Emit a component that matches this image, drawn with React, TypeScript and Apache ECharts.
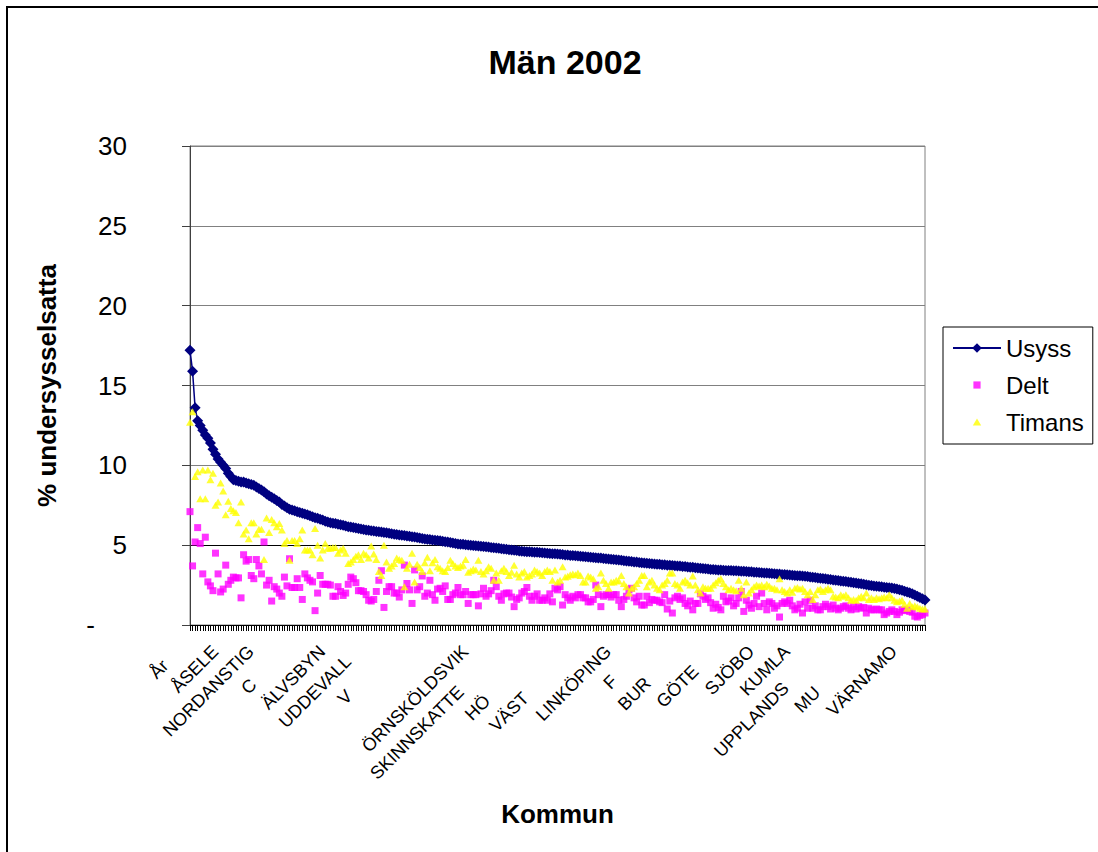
import React, { useEffect, useRef } from "react";
import * as echarts from "echarts";

// ---------- DATA ----------
const TITLE = "Män 2002";
const Y_NAME = "% undersysselsatta";
const X_NAME = "Kommun";
const SERIES_NAMES = ["Usyss", "Delt", "Timans"];

// Visible (clipped) category labels, one per label slot of 14 kommuner
const KOMMUN_LABELS = [
  "År", "ÅSELE", "NORDANSTIG", "C", "ÄLVSBYN", "UDDEVALL", "V", "",
  "ÖRNSKÖLDSVIK", "SKINNSKATTE", "HÖ", "VÄST", "LINKÖPING", "F", "BUR",
  "GÖTE", "SJÖBO", "KUMLA", "UPPLANDS", "MU", "VÄRNAMO",
];
const LABEL_STEP = 14;

const Y_TICKS = [0, 5, 10, 15, 20, 25, 30];

const USYSS = [
  17.2, 15.9, 13.6, 12.8, 12.5, 12.2, 11.9, 11.7, 11.4, 11.0,
  10.7, 10.4, 10.2, 10.0, 9.8, 9.5, 9.3, 9.1, 9.05, 9.0,
  8.95, 8.95, 8.9, 8.85, 8.8, 8.75, 8.65, 8.55, 8.45, 8.35,
  8.2, 8.1, 8.0, 7.9, 7.8, 7.7, 7.55, 7.45, 7.35, 7.25,
  7.2, 7.15, 7.1, 7.05, 7.0, 6.95, 6.9, 6.85, 6.78, 6.72,
  6.68, 6.62, 6.57, 6.5, 6.45, 6.4, 6.38, 6.35, 6.31, 6.28,
  6.24, 6.2, 6.16, 6.13, 6.1, 6.07, 6.04, 6.01, 5.98, 5.95,
  5.93, 5.91, 5.89, 5.86, 5.84, 5.82, 5.8, 5.77, 5.74, 5.71,
  5.69, 5.67, 5.64, 5.62, 5.6, 5.58, 5.56, 5.53, 5.51, 5.48,
  5.45, 5.42, 5.39, 5.37, 5.35, 5.33, 5.31, 5.29, 5.27, 5.25,
  5.22, 5.2, 5.17, 5.14, 5.11, 5.08, 5.06, 5.05, 5.03, 5.01,
  5.0, 4.98, 4.96, 4.95, 4.93, 4.92, 4.9, 4.88, 4.86, 4.84,
  4.82, 4.8, 4.78, 4.76, 4.74, 4.72, 4.7, 4.68, 4.66, 4.64,
  4.62, 4.6, 4.59, 4.58, 4.57, 4.56, 4.55, 4.54, 4.52, 4.51,
  4.49, 4.48, 4.47, 4.46, 4.45, 4.43, 4.41, 4.39, 4.38, 4.36,
  4.35, 4.33, 4.32, 4.3, 4.29, 4.27, 4.26, 4.24, 4.23, 4.21,
  4.2, 4.19, 4.17, 4.15, 4.14, 4.12, 4.11, 4.09, 4.07, 4.05,
  4.03, 4.01, 3.99, 3.97, 3.95, 3.94, 3.92, 3.9, 3.88, 3.86,
  3.85, 3.84, 3.82, 3.81, 3.8, 3.78, 3.77, 3.75, 3.74, 3.72,
  3.71, 3.7, 3.69, 3.67, 3.66, 3.64, 3.62, 3.61, 3.59, 3.57,
  3.56, 3.54, 3.52, 3.5, 3.48, 3.47, 3.46, 3.45, 3.44, 3.43,
  3.42, 3.41, 3.41, 3.4, 3.39, 3.38, 3.37, 3.36, 3.35, 3.34,
  3.33, 3.31, 3.3, 3.29, 3.28, 3.26, 3.25, 3.24, 3.23, 3.21,
  3.2, 3.19, 3.17, 3.16, 3.15, 3.13, 3.12, 3.1, 3.09, 3.08,
  3.07, 3.05, 3.03, 3.01, 2.99, 2.97, 2.95, 2.93, 2.91, 2.89,
  2.87, 2.85, 2.82, 2.8, 2.78, 2.76, 2.74, 2.72, 2.7, 2.68,
  2.65, 2.63, 2.6, 2.58, 2.55, 2.52, 2.49, 2.47, 2.45, 2.43,
  2.41, 2.39, 2.37, 2.35, 2.33, 2.31, 2.28, 2.25, 2.21, 2.17,
  2.12, 2.07, 2.02, 1.95, 1.88, 1.8, 1.72, 1.64, 1.56,
];

const DELT = [
  7.1, 3.7, 5.2, 6.1, 5.1, 3.2, 5.5, 2.7, 2.45, 2.15,
  4.5, 3.2, 2.07, 2.25, 3.75, 2.55, 2.8, 3.0, 2.95, 2.95,
  1.7, 4.4, 4.0, 4.1, 3.1, 2.9, 4.1, 3.7, 3.2, 5.2,
  2.5, 2.8, 1.5, 2.4, 2.25, 2.0, 1.8, 3.0, 2.45, 4.15,
  2.35, 2.35, 2.9, 2.35, 1.6, 3.2, 2.95, 2.8, 2.7, 0.9,
  2.0, 3.1, 2.55, 2.55, 2.55, 2.5, 1.8, 1.8, 2.4, 2.1,
  1.85, 2.0, 2.55, 3.0, 2.9, 2.65, 2.15, 2.15, 2.1, 1.9,
  1.55, 1.5, 1.6, 2.1, 2.8, 3.4, 1.1, 2.1, 2.4, 2.4,
  2.0, 2.0, 1.75, 2.2, 3.75, 2.6, 2.2, 1.35, 3.45, 2.2,
  2.4, 3.07, 1.8, 2.0, 2.8, 1.9, 1.55, 2.25, 2.3, 2.1,
  2.45, 1.6, 1.6, 1.9, 2.0, 2.35, 1.9, 1.9, 2.1, 1.35,
  1.9, 1.9, 1.9, 1.2, 1.95, 2.3, 1.8, 1.95, 2.15, 2.8,
  2.4, 1.8, 1.55, 1.95, 2.0, 2.0, 1.75, 1.15, 1.6, 1.7,
  2.0, 2.1, 2.35, 1.8, 1.55, 1.8, 1.95, 1.55, 1.55, 1.7,
  1.55, 1.95, 1.45, 2.3, 2.2, 2.4, 1.25, 1.9, 1.7, 1.55,
  1.8, 1.7, 1.9, 1.9, 1.7, 1.7, 1.45, 1.45, 1.6, 2.5,
  1.9, 1.15, 1.8, 1.9, 1.9, 1.75, 1.9, 1.9, 1.55, 1.15,
  1.6, 1.8, 2.2, 2.3, 1.7, 1.45, 1.8, 1.25, 1.25, 1.8,
  1.4, 1.6, 1.55, 1.55, 1.45, 1.4, 1.9, 1.0, 1.5, 0.75,
  1.7, 1.8, 1.6, 1.7, 1.35, 1.2, 1.5, 0.95, 1.35, 1.35,
  1.95, 1.8, 1.6, 1.7, 1.4, 1.05, 1.3, 1.1, 0.95, 1.8,
  1.45, 1.5, 1.7, 1.2, 1.35, 1.7, 2.1, 0.85, 1.55, 1.25,
  1.05, 1.35, 1.8, 1.15, 2.0, 1.35, 0.95, 1.45, 1.35, 1.05,
  1.2, 0.5, 1.35, 1.45, 1.35, 1.55, 1.2, 0.95, 1.05, 1.3,
  0.75, 1.45, 1.05, 1.55, 1.05, 1.2, 0.95, 0.95, 1.15, 1.3,
  1.15, 1.0, 1.25, 1.05, 0.95, 1.05, 1.15, 1.2, 1.05, 0.95,
  1.15, 1.0, 1.15, 1.05, 1.1, 0.75, 1.05, 0.95, 0.95, 1.0,
  0.95, 0.95, 0.65, 0.75, 0.85, 0.95, 0.85, 0.65, 0.8, 0.95,
  0.9, 0.95, 0.85, 0.8, 0.55, 0.5, 0.6, 0.65, 0.75,
];

const TIMANS = [
  12.7, 13.35, 9.3, 9.6, 7.9, 9.7, 7.9, 9.7, 9.1, 9.5,
  7.5, 7.7, 8.9, 8.4, 6.9, 7.75, 7.3, 7.15, 7.05, 6.4,
  7.7, 5.7, 5.95, 5.4, 6.4, 6.4, 5.7, 6.0, 6.0, 4.1,
  6.7, 5.8, 6.6, 6.4, 6.15, 6.35, 5.95, 5.1, 5.3, 4.05,
  5.3, 5.3, 5.1, 5.4, 5.95, 4.7, 4.7, 4.7, 4.4, 6.05,
  5.0, 4.2, 4.7, 5.1, 4.8, 4.8, 4.85, 4.85, 4.5, 4.7,
  4.8, 4.5, 3.85, 3.95, 4.1, 4.3, 4.4, 4.1, 4.5, 4.4,
  4.2, 4.95, 4.45, 4.1, 3.35, 3.1, 5.0, 3.95, 3.55, 3.7,
  3.85, 4.2, 4.1, 4.05, 2.4, 3.55, 3.8, 4.5, 2.7, 3.8,
  3.6, 3.35, 3.9, 4.25, 3.4, 3.9, 4.1, 3.65, 3.55, 3.4,
  3.35, 3.6, 4.05, 3.85, 3.7, 3.6, 3.7, 3.75, 4.1, 3.3,
  3.4, 3.5, 3.45, 4.05, 3.35, 3.2, 3.4, 3.65, 3.55, 2.8,
  3.25, 2.8, 3.4, 3.55, 3.35, 3.1, 3.3, 3.75, 3.2, 3.0,
  3.25, 3.35, 3.0, 3.1, 3.2, 3.45, 3.35, 3.25, 3.1, 3.35,
  3.45, 3.35, 2.8, 3.45, 2.7, 2.8, 3.65, 3.0, 3.05, 3.15,
  3.2, 3.15, 3.25, 3.1, 2.7, 2.7, 3.07, 3.0, 2.9, 2.3,
  2.4, 3.25, 2.8, 2.6, 2.3, 2.7, 2.7, 2.8, 2.75, 3.1,
  2.6, 2.4, 2.0, 2.3, 2.4, 2.6, 2.8, 3.1, 3.1, 2.4,
  2.7, 2.8, 2.5, 2.3, 2.2, 2.5, 2.6, 2.8, 3.25, 3.25,
  2.6, 2.5, 2.3, 2.7, 2.8, 2.65, 2.5, 3.07, 2.5, 2.2,
  2.0, 2.4, 2.3, 2.3, 2.3, 2.5, 2.65, 2.8, 2.9, 2.6,
  2.4, 2.2, 2.3, 2.2, 2.15, 2.8, 2.3, 1.9, 2.7, 2.0,
  2.2, 2.4, 2.5, 2.45, 2.5, 2.4, 2.55, 2.45, 2.3, 2.3,
  2.2, 2.9, 2.2, 2.1, 2.0, 2.2, 2.05, 2.3, 2.35, 2.25,
  2.3, 2.1, 1.9, 2.1, 1.6, 1.9, 2.2, 2.25, 2.1, 2.2,
  2.3, 2.2, 1.8, 1.75, 1.7, 1.9, 1.8, 1.9, 1.7, 1.55,
  1.6, 1.55, 1.7, 1.8, 1.7, 2.0, 1.6, 1.7, 1.6, 1.7,
  1.65, 1.7, 1.75, 1.7, 1.9, 1.7, 1.55, 1.45, 1.5, 1.55,
  1.3, 1.05, 1.35, 1.15, 1.2, 1.15, 1.05, 1.0, 1.0,
];

// ---------- LAYOUT / STYLE ----------
const FONT = "'Liberation Sans', Arial, Helvetica, sans-serif";
const NAVY = "#000080";
const MAGENTA = "#FF00FF";
const YELLOW = "#FFFF00";
const LABEL_BASE_PAD = 15;
// extra shift (px, along the rotated label) that mimics the clipped labels
const LABEL_SHIFT: Record<string, number> = {
  "År": 20, C: 47, UDDEVALL: 14, V: 63, SKINNSKATTE: 57, "HÖ": 70,
  "VÄST": 66, F: 42, BUR: 45, "GÖTE": 28, UPPLANDS: 52, MU: 58,
};

const ICON_SQUARE = "path://M0,0L0,0M10,10L10,10M2,2L8,2L8,8L2,8Z";
const ICON_TRIANGLE = "path://M0,0L0,0M10,10L10,10M5,2L8.5,8L1.5,8Z";

export default function App() {
  const ref = useRef<HTMLDivElement>(null);

  useEffect(() => {
    if (!ref.current) return;
    const chart = echarts.init(ref.current, null, { renderer: "svg" });

    const categories = USYSS.map((_, i) =>
      i % LABEL_STEP === 0 ? KOMMUN_LABELS[i / LABEL_STEP] || "" : ""
    );
    const xData = categories.map((name) => ({
      value: name,
      textStyle: {
        padding: [0, LABEL_BASE_PAD + (LABEL_SHIFT[name] || 0), 0, 0],
      },
    }));

    const option: any = {
      animation: false,
      backgroundColor: "#ffffff",
      textStyle: { fontFamily: FONT },
      title: {
        text: TITLE,
        left: 560,
        top: 40,
        textAlign: "center",
        textStyle: {
          fontFamily: FONT,
          fontSize: 34,
          fontWeight: "bold",
          color: "#000",
        },
      },
      graphic: [
        {
          type: "rect",
          shape: { x: 7, y: 7, width: 1200, height: 1000 },
          style: { fill: "none", stroke: "#000", lineWidth: 2 },
          silent: true,
          z: 100,
        },
      ],
      legend: {
        orient: "vertical",
        left: 943,
        top: 327,
        padding: [9, 9, 10, 9],
        itemWidth: 48,
        itemHeight: 12,
        itemGap: 13,
        borderColor: "#000",
        borderWidth: 1,
        textStyle: { fontFamily: FONT, fontSize: 24, color: "#000" },
        data: [
          { name: SERIES_NAMES[0] },
          { name: SERIES_NAMES[1], icon: ICON_SQUARE },
          { name: SERIES_NAMES[2], icon: ICON_TRIANGLE },
        ],
      },
      grid: {
        left: 190,
        right: 173,
        top: 146,
        bottom: 227,
        show: true,
        borderColor: "#808080",
        borderWidth: 1,
        containLabel: false,
      },
      xAxis: {
        type: "category",
        data: xData,
        boundaryGap: false,
        name: X_NAME,
        nameLocation: "middle",
        nameGap: 176,
        nameTextStyle: {
          fontFamily: FONT,
          fontSize: 26,
          fontWeight: "bold",
          color: "#000",
        },
        axisLine: { show: true, lineStyle: { color: "#000", width: 1 } },
        axisTick: {
          show: true,
          interval: 0,
          length: 6,
          lineStyle: { color: "#000", width: 1 },
        },
        axisLabel: {
          interval: 0,
          rotate: 45,
          margin: 13,
          fontFamily: FONT,
          fontSize: 18,
          color: "#000",
          padding: [0, LABEL_BASE_PAD, 0, 0],
        },
        splitLine: { show: false },
      },
      yAxis: {
        type: "value",
        min: Y_TICKS[0],
        max: Y_TICKS[Y_TICKS.length - 1],
        interval: Y_TICKS[1] - Y_TICKS[0],
        name: Y_NAME,
        nameLocation: "middle",
        nameRotate: 90,
        nameGap: 130,
        nameTextStyle: {
          fontFamily: FONT,
          fontSize: 26,
          fontWeight: "bold",
          color: "#000",
        },
        axisLine: { show: true, lineStyle: { color: "#404040", width: 1 } },
        axisTick: {
          show: true,
          inside: false,
          length: 8,
          lineStyle: { color: "#404040", width: 1 },
        },
        axisLabel: {
          margin: 63,
          fontFamily: FONT,
          fontSize: 26,
          color: "#000",
          formatter: (v: number) => (v === 0 ? "{d|-}" : String(v)),
          rich: {
            d: {
              fontFamily: FONT,
              fontSize: 26,
              color: "#000",
              padding: [0, 32, 0, 0],
            },
          },
        },
        splitLine: {
          show: true,
          lineStyle: {
            color: [
              "#808080", "#000000", "#808080", "#808080",
              "#808080", "#808080", "#808080",
            ],
            width: 1,
          },
        },
      },
      series: [
        {
          name: SERIES_NAMES[0],
          type: "line",
          data: USYSS,
          symbol: "diamond",
          symbolSize: 11,
          showAllSymbol: true,
          lineStyle: { color: NAVY, width: 1.5 },
          itemStyle: { color: NAVY },
          z: 2,
        },
        {
          name: SERIES_NAMES[1],
          type: "scatter",
          data: DELT,
          symbol: "rect",
          symbolSize: 7,
          itemStyle: { color: MAGENTA },
          z: 3,
        },
        {
          name: SERIES_NAMES[2],
          type: "scatter",
          data: TIMANS,
          symbol: "triangle",
          symbolSize: [8, 7],
          itemStyle: { color: YELLOW },
          z: 4,
        },
      ],
    };

    chart.setOption(option);
    return () => chart.dispose();
  }, []);

  return (
    <div
      ref={ref}
      style={{
        position: "absolute",
        left: 0,
        top: 0,
        width: 1098,
        height: 852,
      }}
    />
  );
}
